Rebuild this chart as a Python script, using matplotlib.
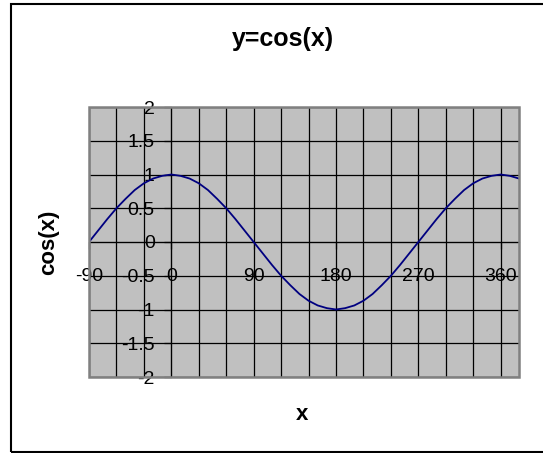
import numpy as np
import matplotlib
matplotlib.use("Agg")
import matplotlib.pyplot as plt
from matplotlib.patches import Rectangle

plt.rcParams['font.family'] = ['Liberation Sans', 'DejaVu Sans']
plt.rcParams['axes.unicode_minus'] = False

# angle in degrees
x_deg = [-90, -80, -70, -60, -50, -40, -30, -20, -10, 0, 10, 20, 30, 40, 50, 60,
         70, 80, 90, 100, 110, 120, 130, 140, 150, 160, 170, 180, 190, 200, 210,
         220, 230, 240, 250, 260, 270, 280, 290, 300, 310, 320, 330, 340, 350,
         360, 370, 380]
y_cos = [0, 0.17, 0.34, 0.5, 0.64, 0.77, 0.87, 0.94, 0.98, 1, 0.98, 0.94, 0.87,
         0.77, 0.64, 0.5, 0.34, 0.17, 0, -0.17, -0.34, -0.5, -0.64, -0.77, -0.87,
         -0.94, -0.98, -1, -0.98, -0.94, -0.87, -0.77, -0.64, -0.5, -0.34, -0.17,
         0, 0.17, 0.34, 0.5, 0.64, 0.77, 0.87, 0.94, 0.98, 1, 0.98, 0.94]

xticks = [-90, 0, 90, 180, 270, 360]
xtick_labels = ['-90', '0', '90', '180', '270', '360']
yticks = [-2, -1.5, -1, -0.5, 0, 0.5, 1, 1.5, 2]
ytick_labels = ['-2', '-1.5', '-1', '-0.5', '0', '0.5', '1', '1.5', '2']

fig = plt.figure(figsize=(5.43, 4.53), dpi=100)
ax = fig.add_axes([89/543, 1 - 377/453, 430/543, 270/453])
ax.set_facecolor('#c0c0c0')

ax.plot(x_deg, y_cos, color='#000080', lw=1.3, zorder=3)

ax.set_xlim(-90, 380)
ax.set_ylim(-2, 2)

ax.set_xticks(xticks)
ax.set_xticklabels(xtick_labels)
ax.set_xticks(np.arange(-60, 380, 30), minor=True)
ax.set_yticks(yticks)
ax.set_yticklabels(ytick_labels)

ax.grid(True, which='both', axis='x', color='black', lw=0.9)
ax.grid(True, which='major', axis='y', color='black', lw=0.9)
ax.set_axisbelow(True)

# axes cross at zero like the spreadsheet chart
for s in ['top', 'right']:
    ax.spines[s].set_visible(False)
ax.spines['left'].set_position(('data', 0))
ax.spines['bottom'].set_position(('data', 0))
ax.spines['left'].set_color('black')
ax.spines['bottom'].set_color('black')
ax.spines['left'].set_zorder(2)
ax.spines['bottom'].set_zorder(2)

ax.tick_params(axis='y', direction='out', length=5, width=0.9, pad=7,
               labelsize=14)
ax.tick_params(axis='x', which='major', direction='out', length=5, width=0.9,
               pad=14, labelsize=14)
ax.tick_params(axis='x', which='minor', length=0)

# plot area border
ax.add_patch(Rectangle((0, 0), 1, 1, transform=ax.transAxes, fill=False,
                       edgecolor='#808080', lw=1.8, clip_on=False, zorder=4))

fig.text(283/543, 1 - 39/453, 'y=cos(x)', ha='center', va='center',
         fontsize=18, fontweight='bold')
fig.text(49/543, 1 - 242/453, 'cos(x)', ha='center', va='center',
         rotation=90, fontsize=16, fontweight='bold')
fig.text(302/543, 1 - 415/453, 'x', ha='center', va='center',
         fontsize=16, fontweight='bold')

# chart area border
fig.patches.append(Rectangle((11/543, 1/453), 1.0, 1 - 5/453,
                             transform=fig.transFigure, fill=False,
                             edgecolor='black', lw=1.5))

fig.savefig('out.png', dpi=100)
